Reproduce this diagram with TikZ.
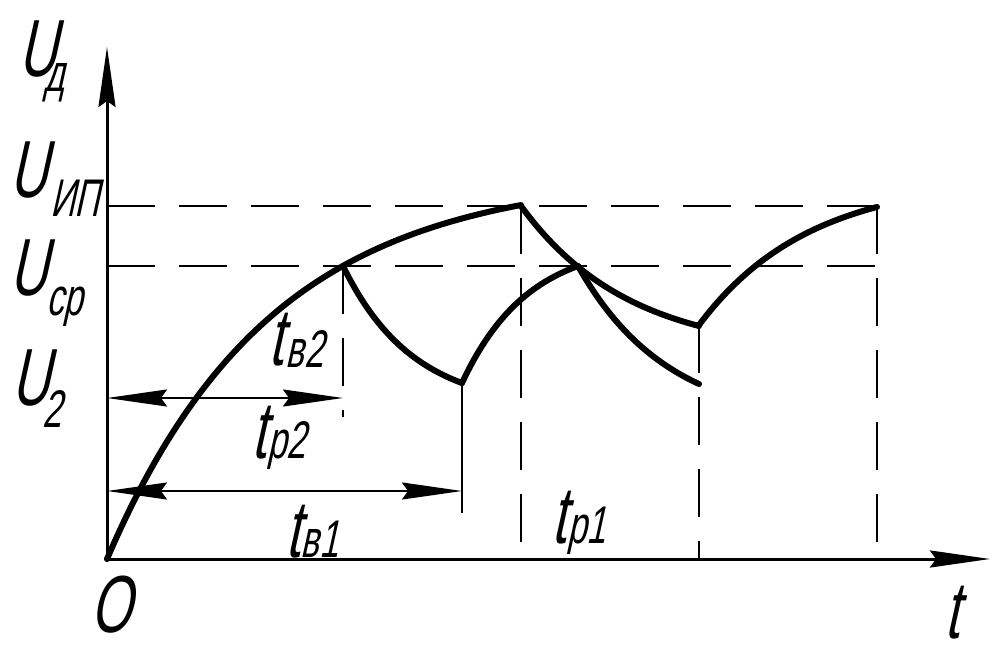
\documentclass[tikz,border=0pt]{standalone}
\usepackage{fontspec}
\newfontfamily\gost{Liberation Sans}[FakeSlant=0.22,FakeStretch=0.65]
\usetikzlibrary{arrows.meta}
\newcommand{\gmain}{\gost\fontsize{81}{81}\selectfont}
\newcommand{\gsub}{\gost\fontsize{53}{53}\selectfont}
\begin{document}
\begin{tikzpicture}[x=1pt,y=-1pt,
  axisline/.style={line width=3pt},
  dimline/.style={line width=2pt},
  dshline/.style={line width=2.5pt,dash pattern=on 48pt off 24pt},
  curveline/.style={line width=6pt,line cap=round,line join=round},
  lbl/.style={anchor=base west,inner sep=0pt,font=\gmain}]
\useasboundingbox (0,0) rectangle (994,658);
% key points
\coordinate (O) at (107,559);
\coordinate (ytop) at (107,47);
\coordinate (xend) at (990,559);
\coordinate (hIPl) at (107,206);
\coordinate (hSRl) at (107,266);
\coordinate (P1) at (521,206);
\coordinate (A) at (343,266);
\coordinate (V1) at (462,383);
\coordinate (X) at (578,266);
\coordinate (V2) at (699,325);
\coordinate (E2) at (699,384);
\coordinate (P2) at (877,206);
\coordinate (P2s) at (877,266);
\coordinate (Ab) at (343,417);
\coordinate (V1b) at (462,513);
\coordinate (P1b) at (521,559);
\coordinate (V2b) at (699,559);
\coordinate (P2b) at (877,559);
\coordinate (d2l) at (107,398);
\coordinate (d2r) at (343,398);
\coordinate (d1l) at (107,491);
\coordinate (d1r) at (462,491);
% dashed guides
\draw[dshline] (hIPl) -- (P2);
\draw[dshline] (hSRl) -- (P2s);
\draw[dshline] (A) -- (Ab);
\draw[dshline] (P1) -- (P1b);
\draw[dshline] (V2) -- (V2b);
\draw[dshline] (P2) -- (P2b);
\draw[dimline] (V1) -- (V1b);
% dimension arrows
\draw[dimline,{Stealth[length=60pt,width=17pt,inset=6pt]}-{Stealth[length=60pt,width=17pt,inset=6pt]}] (d2l) -- (d2r);
\draw[dimline,{Stealth[length=60pt,width=17pt,inset=6pt]}-{Stealth[length=60pt,width=17pt,inset=6pt]}] (d1l) -- (d1r);
% axes
\draw[axisline,-{Stealth[length=60pt,width=17pt,inset=6pt]}] (O) -- (ytop);
\draw[axisline,-{Stealth[length=60pt,width=17pt,inset=6pt]}] (O) -- (xend);
% curves
\draw[curveline] plot[domain=107:521,samples=90] (\x,{559-385.3*(1-exp(-(\x-107)/165))});
\draw[curveline] plot[domain=343:462,samples=40] (\x,{266+143.2*(1-exp(-(\x-343)/70))});
\draw[curveline] plot[domain=462:578,samples=40] (\x,{383-141.4*(1-exp(-(\x-462)/66))});
\draw[curveline] plot[domain=578:699,samples=40] (\x,{266+159.6*(1-exp(-(\x-578)/90))});
\draw[curveline] plot[domain=521:699,samples=50] (\x,{206+148.6*(1-exp(-(\x-521)/108))});
\draw[curveline] plot[domain=699:877,samples=50] (\x,{325-147.2*(1-exp(-(\x-699)/110))});
% labels
\node[lbl] (lUd) at (18,77) {U\kern-12pt\raisebox{-15pt}{\gsub д}};
\node[lbl] (lUip) at (9,197) {U\kern3pt\raisebox{-20pt}{\gsub ИП}};
\node[lbl] (lUsr) at (9,295) {U\kern-1pt\raisebox{-20pt}{\gsub ср}};
\node[lbl] (lU2) at (11,405) {U\kern-7pt\raisebox{-22pt}{\gsub 2}};
\node[lbl] (ltv2) at (268,365) {t\kern3pt\raisebox{-2pt}{\gsub в2}};
\node[lbl] (ltp2) at (251,458) {t\kern2pt{\gsub р2}};
\node[lbl] (ltv1) at (285,557) {t\kern1pt{\gsub в1}};
\node[lbl] (ltp1) at (551,543) {t\kern2pt{\gsub р1}};
\node[lbl] (lO) at (90,632) {O};
\node[lbl] (lt) at (944,638) {t};
\end{tikzpicture}
\end{document}
